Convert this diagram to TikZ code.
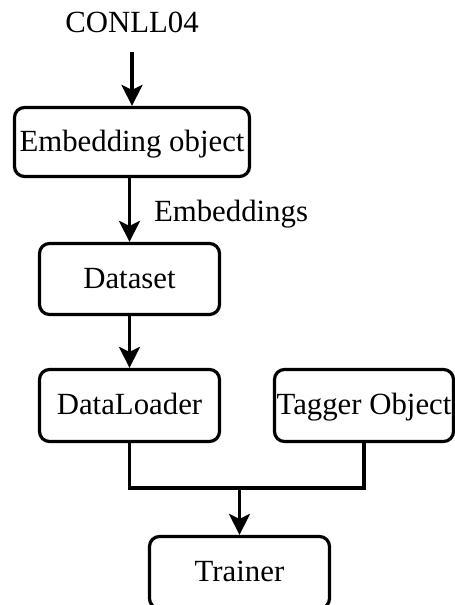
\documentclass[tikz,border=0pt]{standalone}
\usepackage{fontspec}
\setmainfont{Liberation Serif}
\usetikzlibrary{arrows.meta}
\begin{document}
\begin{tikzpicture}[x=1pt,y=-1pt,
  box/.style={draw, line width=3.2pt, rounded corners=10pt, inner sep=0pt, minimum height=71pt, text height=24pt, text depth=6pt},
  lbl/.style={inner sep=0pt},
  conn/.style={line width=3.2pt},
  arr/.style={conn, -{Stealth[length=21pt,width=21pt,inset=5pt]}},
  every node/.style={font=\fontsize{30.8}{36}\selectfont}]
\useasboundingbox (0,0) rectangle (455,605);
\node[lbl] (src) at (132,22) {CONLL04};
\node[box, minimum width=235pt, minimum height=69pt] (emb) at (132,142) {Embedding object};
\node[box, minimum width=180pt] (ds) at (129.5,279) {Dataset};
\node[box, minimum width=180pt, minimum height=72pt] (dl) at (129.5,405.5) {DataLoader};
\node[box, minimum width=179pt, minimum height=72pt] (tg) at (364,405.5) {Tagger Object};
\node[box, minimum width=180pt, minimum height=72pt] (tr) at (239.5,572.5) {Trainer};
\node[lbl] (embl) at (231,214) {Embeddings};
\coordinate (srcb) at (132,52);
\coordinate (j) at (239.5,488);
\draw[arr] (srcb) -- (emb.north);
\draw[arr] (emb.south -| ds.north) -- (ds.north);
\draw[arr] (ds) -- (dl);
\draw[conn] (dl.south) |- (j) -| (tg.south);
\draw[arr] (j) -- (tr.north);
\end{tikzpicture}
\end{document}
